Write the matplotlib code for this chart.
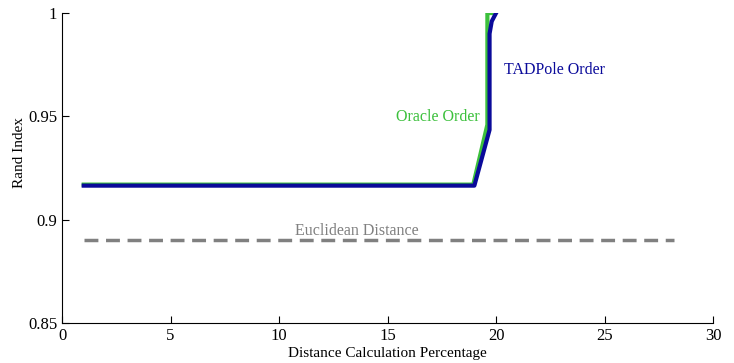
import matplotlib
matplotlib.use("Agg")
import matplotlib.pyplot as plt

plt.rcParams['font.family'] = ['Liberation Serif', 'DejaVu Serif']

# data
tadpole_x = [1.0, 19.0, 19.7, 19.7, 19.8, 20.0]
tadpole_y = [0.9165, 0.9165, 0.9435, 0.990, 0.996, 1.0]
oracle_x = [1.0, 18.95, 19.6, 19.6, 19.8]
oracle_y = [0.917, 0.917, 0.946, 1.0, 1.0]
euclid_x = [1.0, 28.2]
euclid_y = [0.890, 0.890]

fig = plt.figure(figsize=(7.34, 3.63), dpi=100)
ax = fig.add_axes([0.0845, 0.11, 0.887, 0.854])

ax.plot(euclid_x, euclid_y, color='#808080', lw=2.5, ls=(0, (4, 2.2)))
ax.plot(oracle_x, oracle_y, color='#3cc03c', lw=3)
ax.plot(tadpole_x, tadpole_y, color='#0a0a9a', lw=3)

ax.text(13.6, 0.8945, 'Euclidean Distance', color='#808080', fontsize=11.5,
        ha='center', va='center')
ax.text(17.3, 0.9495, 'Oracle Order', color='#3cc03c', fontsize=11.5,
        ha='center', va='center')
ax.text(22.7, 0.9725, 'TADPole Order', color='#0a0a9a', fontsize=11.5,
        ha='center', va='center')

ax.set_xlim(0, 30)
ax.set_ylim(0.85, 1.0)
ax.set_xticks([0, 5, 10, 15, 20, 25, 30])
ax.set_yticks([0.85, 0.9, 0.95, 1.0])
ax.set_yticklabels(['0.85', '0.9', '0.95', '1'])
ax.tick_params(direction='in', labelsize=12, length=5)
ax.spines['top'].set_visible(False)
ax.spines['right'].set_visible(False)
ax.set_xlabel('Distance Calculation Percentage', fontsize=11, labelpad=2)
ax.set_ylabel('Rand Index', fontsize=11)
ax.yaxis.set_label_coords(-0.056, 0.55)

fig.savefig('out.png', dpi=100)
